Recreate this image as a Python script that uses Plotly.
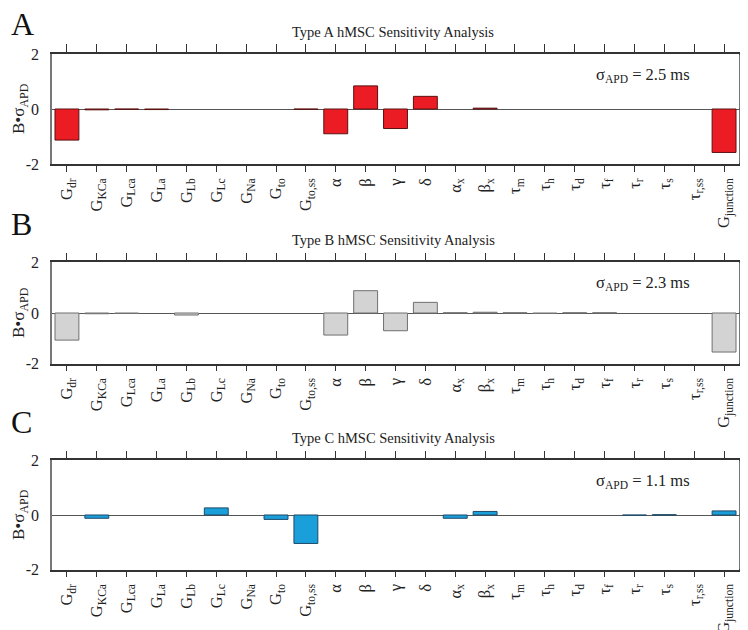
import plotly.graph_objects as go

categories = ["G<sub>dr</sub>", "G<sub>KCa</sub>", "G<sub>Lca</sub>", "G<sub>La</sub>", "G<sub>Lb</sub>",
              "G<sub>Lc</sub>", "G<sub>Na</sub>", "G<sub>to</sub>", "G<sub>to,ss</sub>", "α", "β", "γ", "δ",
              "α<sub>x</sub>", "β<sub>x</sub>", "τ<sub>m</sub>", "τ<sub>h</sub>", "τ<sub>d</sub>",
              "τ<sub>f</sub>", "τ<sub>r</sub>", "τ<sub>s</sub>", "τ<sub>r,ss</sub>", "G<sub>junction</sub>"]

type_a = [-1.13, -0.03, -0.01, -0.02, 0, 0, 0, 0, -0.01, -0.90, 0.84, -0.71, 0.46,
          0, 0.03, 0, 0, 0, 0, 0, 0, 0, -1.58]
type_b = [-1.07, -0.03, -0.02, 0, -0.08, 0, 0, 0, 0, -0.87, 0.88, -0.70, 0.42,
          0.01, 0.03, 0.01, -0.02, 0.01, 0.01, 0, 0, 0, -1.54]
type_c = [0, -0.12, 0, 0, 0, 0.26, 0, -0.16, -1.04, 0, 0, 0, 0,
          -0.12, 0.13, 0, 0, 0, 0, -0.01, 0.01, 0, 0.15]

panel_letters = ["A", "B", "C"]
titles = ["Type A hMSC Sensitivity Analysis", "Type B hMSC Sensitivity Analysis",
          "Type C hMSC Sensitivity Analysis"]
sigma_labels = ["2.5", "2.3", "1.1"]
series = [type_a, type_b, type_c]

fill_colors = ["#EC1C24", "#D3D3D3", "#1B9FDB"]
line_colors = ["#5A1010", "#707070", "#1D4A68"]

# page is drawn with an 8px body margin; work in reference pixels and shift
OFF = 8
W, H = 748 - OFF, 630 - OFF
panels_px = [(54, 164), (262.3, 363.7), (460.3, 569.7)]
x0_px, x1_px = 52, 739


def px_x(x):
    return (x - OFF) / W


def px_y(y):
    return 1 - (y - OFF) / H


FONT = "Liberation Serif, Times New Roman, serif"
x_idx = list(range(len(categories)))

fig = go.Figure()
layout = dict(
    width=W, height=H, margin=dict(l=0, r=0, t=0, b=0, autoexpand=False),
    paper_bgcolor="white", plot_bgcolor="white", showlegend=False,
    font=dict(family=FONT, color="#222"), bargap=0.2,
)
annotations = []
shapes = []
for i, (vals, (top, bot)) in enumerate(zip(series, panels_px)):
    n = i + 1
    xa = f"x{n}" if n > 1 else "x"
    ya = f"y{n}" if n > 1 else "y"
    outline_w = [0 if v == 0 else 1 for v in vals]
    fig.add_trace(go.Bar(x=x_idx, y=vals, xaxis=xa, yaxis=ya, width=0.8,
                         marker=dict(color=fill_colors[i], line=dict(color=line_colors[i], width=outline_w))))
    ydom = [px_y(bot), px_y(top)]
    xdom = [px_x(x0_px), px_x(x1_px)]
    key = "" if n == 1 else str(n)
    layout[f"xaxis{key}"] = dict(
        domain=xdom, range=[-0.5, 22.5], anchor=ya, tickmode="array", tickvals=x_idx,
        ticktext=categories, tickangle=-90, ticks="outside", ticklen=6, tickcolor="#333",
        showline=True, linecolor="#333", linewidth=1.5, showgrid=False, zeroline=False,
        tickfont=dict(family=FONT, size=16.5, color="#222"), fixedrange=True, automargin=False,
    )
    layout[f"yaxis{key}"] = dict(
        domain=ydom, range=[-2, 2], anchor=xa, tickvals=[-2, 0, 2], ticktext=["-2", "0", "2"],
        ticks="", showline=True, linecolor="#777", linewidth=1.5, mirror=True,
        showgrid=False, zeroline=True, zerolinecolor="#555", zerolinewidth=1.3,
        tickfont=dict(family=FONT, size=16, color="#222"), ticklabelstandoff=8,
        automargin=False, fixedrange=True,
    )
    # top tick axis
    tkey = str(n + 3)
    layout[f"xaxis{tkey}"] = dict(
        domain=xdom, range=[-0.5, 22.5], overlaying=xa, anchor=ya, side="top",
        tickmode="array", tickvals=x_idx, showticklabels=False, ticks="outside", ticklen=8,
        tickcolor="#333", showline=True, linecolor="#333", linewidth=1.5, showgrid=False,
        zeroline=False, fixedrange=True, automargin=False,
    )
    fig.add_trace(go.Scatter(x=[None], y=[None], xaxis=f"x{tkey}", yaxis=ya, hoverinfo="skip"))
    # horizontal lines overshooting the right border slightly
    for yv, col, lw in [(2, "#333", 1.5), (0, "#555", 1.3), (-2, "#333", 1.5)]:
        shapes.append(dict(type="line", xref=f"{xa} domain", yref=ya, x0=1, x1=1 + 8 / (x1_px - x0_px),
                           y0=yv, y1=yv, line=dict(color=col, width=lw)))
    # y axis title
    annotations.append(dict(text="B•σ<sub>APD</sub>", x=px_x(20), y=px_y((top + bot) / 2),
                            xref="paper", yref="paper", xanchor="center", yanchor="middle",
                            textangle=-90, showarrow=False, font=dict(family=FONT, size=17, color="#222")))
    # panel letter (kept inside the visible page)
    letter_y = max(top - 38, OFF + 16)
    annotations.append(dict(text=panel_letters[i], x=px_x(OFF + 1), y=px_y(letter_y), xref="paper",
                            yref="paper", xanchor="left", yanchor="middle", showarrow=False,
                            font=dict(family=FONT, size=32, color="#111")))
    # title
    annotations.append(dict(text=titles[i], x=px_x(393), y=px_y(top - 22), xref="paper", yref="paper",
                            xanchor="center", yanchor="middle", showarrow=False,
                            font=dict(family=FONT, size=14.5, color="#222")))
    # sigma annotation
    annotations.append(dict(text=f"σ<sub>APD</sub> = {sigma_labels[i]} ms", x=px_x(594), y=px_y(top + 21),
                            xref="paper", yref="paper", xanchor="left", yanchor="middle", showarrow=False,
                            font=dict(family=FONT, size=16.5, color="#222")))

layout["annotations"] = annotations
layout["shapes"] = shapes
fig.update_layout(**layout)
fig.write_html("out.html")
